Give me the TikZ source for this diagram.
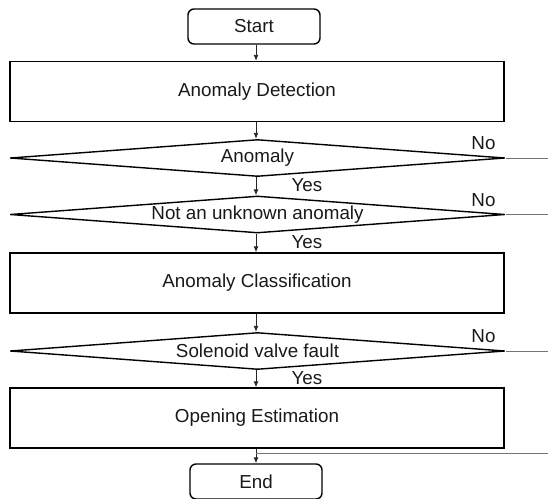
\documentclass[tikz,border=0pt]{standalone}
\usepackage{fontspec}
\setmainfont{Liberation Sans}
\usetikzlibrary{shapes.geometric,arrows.meta}
\begin{document}
\begin{tikzpicture}[x=1pt,y=-1pt,
  every node/.style={font=\fontsize{18.8}{22}\selectfont, text=black!90},
  terminal/.style={draw, line width=1.4pt, rounded corners=6pt,
    minimum width=132pt, minimum height=35pt, inner sep=0pt},
  process/.style={draw, line width=1.4pt,
    minimum width=494pt, minimum height=60pt, inner sep=0pt},
  decision/.style={draw, shape=diamond, aspect=13.4, line width=1.4pt,
    minimum width=495pt, minimum height=37pt, inner sep=0pt},
  flow/.style={draw=black!85, line width=0.9pt,
    -{Latex[length=6pt,width=5pt]}},
  exit/.style={draw=black!55, line width=1pt},
  lbl/.style={inner sep=0pt}]
  \useasboundingbox (0,0) rectangle (548,498);

  % main column of steps
  \node[terminal] (start) at (254,26.5) {Start};
  \node[process]  (detect) at (257,91.5) {Anomaly Detection};
  \node[decision] (anom) at (257.5,158) {Anomaly};
  \node[decision] (known) at (257.5,214.5) {Not an unknown anomaly};
  \node[process]  (classify) at (257,283) {Anomaly Classification};
  \node[decision] (valve) at (257.5,351) {Solenoid valve fault};
  \node[process]  (opening) at (257,418) {Opening Estimation};
  \node[terminal] (finish) at (256,481.5) {End};

  % right margin and merge point of the bypass lines
  \coordinate (rim) at (548,0);
  \coordinate (merge) at (256,453);

  % downward flow
  \draw[flow] (start.south -| 256,0) -- (detect.north -| 256,0);
  \draw[flow] (detect.south -| 256,0) -- (anom.north -| 256,0);
  \draw[flow] (anom.south -| 256,0) -- (known.north -| 256,0);
  \draw[flow] (known.south -| 256,0) -- (classify.north -| 256,0);
  \draw[flow] (classify.south -| 256,0) -- (valve.north -| 256,0);
  \draw[flow] (valve.south -| 256,0) -- (opening.north -| 256,0);
  \draw[flow] (opening.south -| 256,0) -- (finish.north -| 256,0);

  % "No" branches leaving to the right
  \draw[exit] (anom.east) -- (anom.east -| rim);
  \draw[exit] (known.east) -- (known.east -| rim);
  \draw[exit] (valve.east) -- (valve.east -| rim);
  \draw[exit] (merge) -- (merge -| rim);

  % branch labels
  \node[lbl] (no1) at (483.5,143) {No};
  \node[lbl] (no2) at (483.5,200) {No};
  \node[lbl] (no3) at (483.5,336) {No};
  \node[lbl] (yes1) at (307,185) {Yes};
  \node[lbl] (yes2) at (307,242) {Yes};
  \node[lbl] (yes3) at (307,378) {Yes};
\end{tikzpicture}
\end{document}
